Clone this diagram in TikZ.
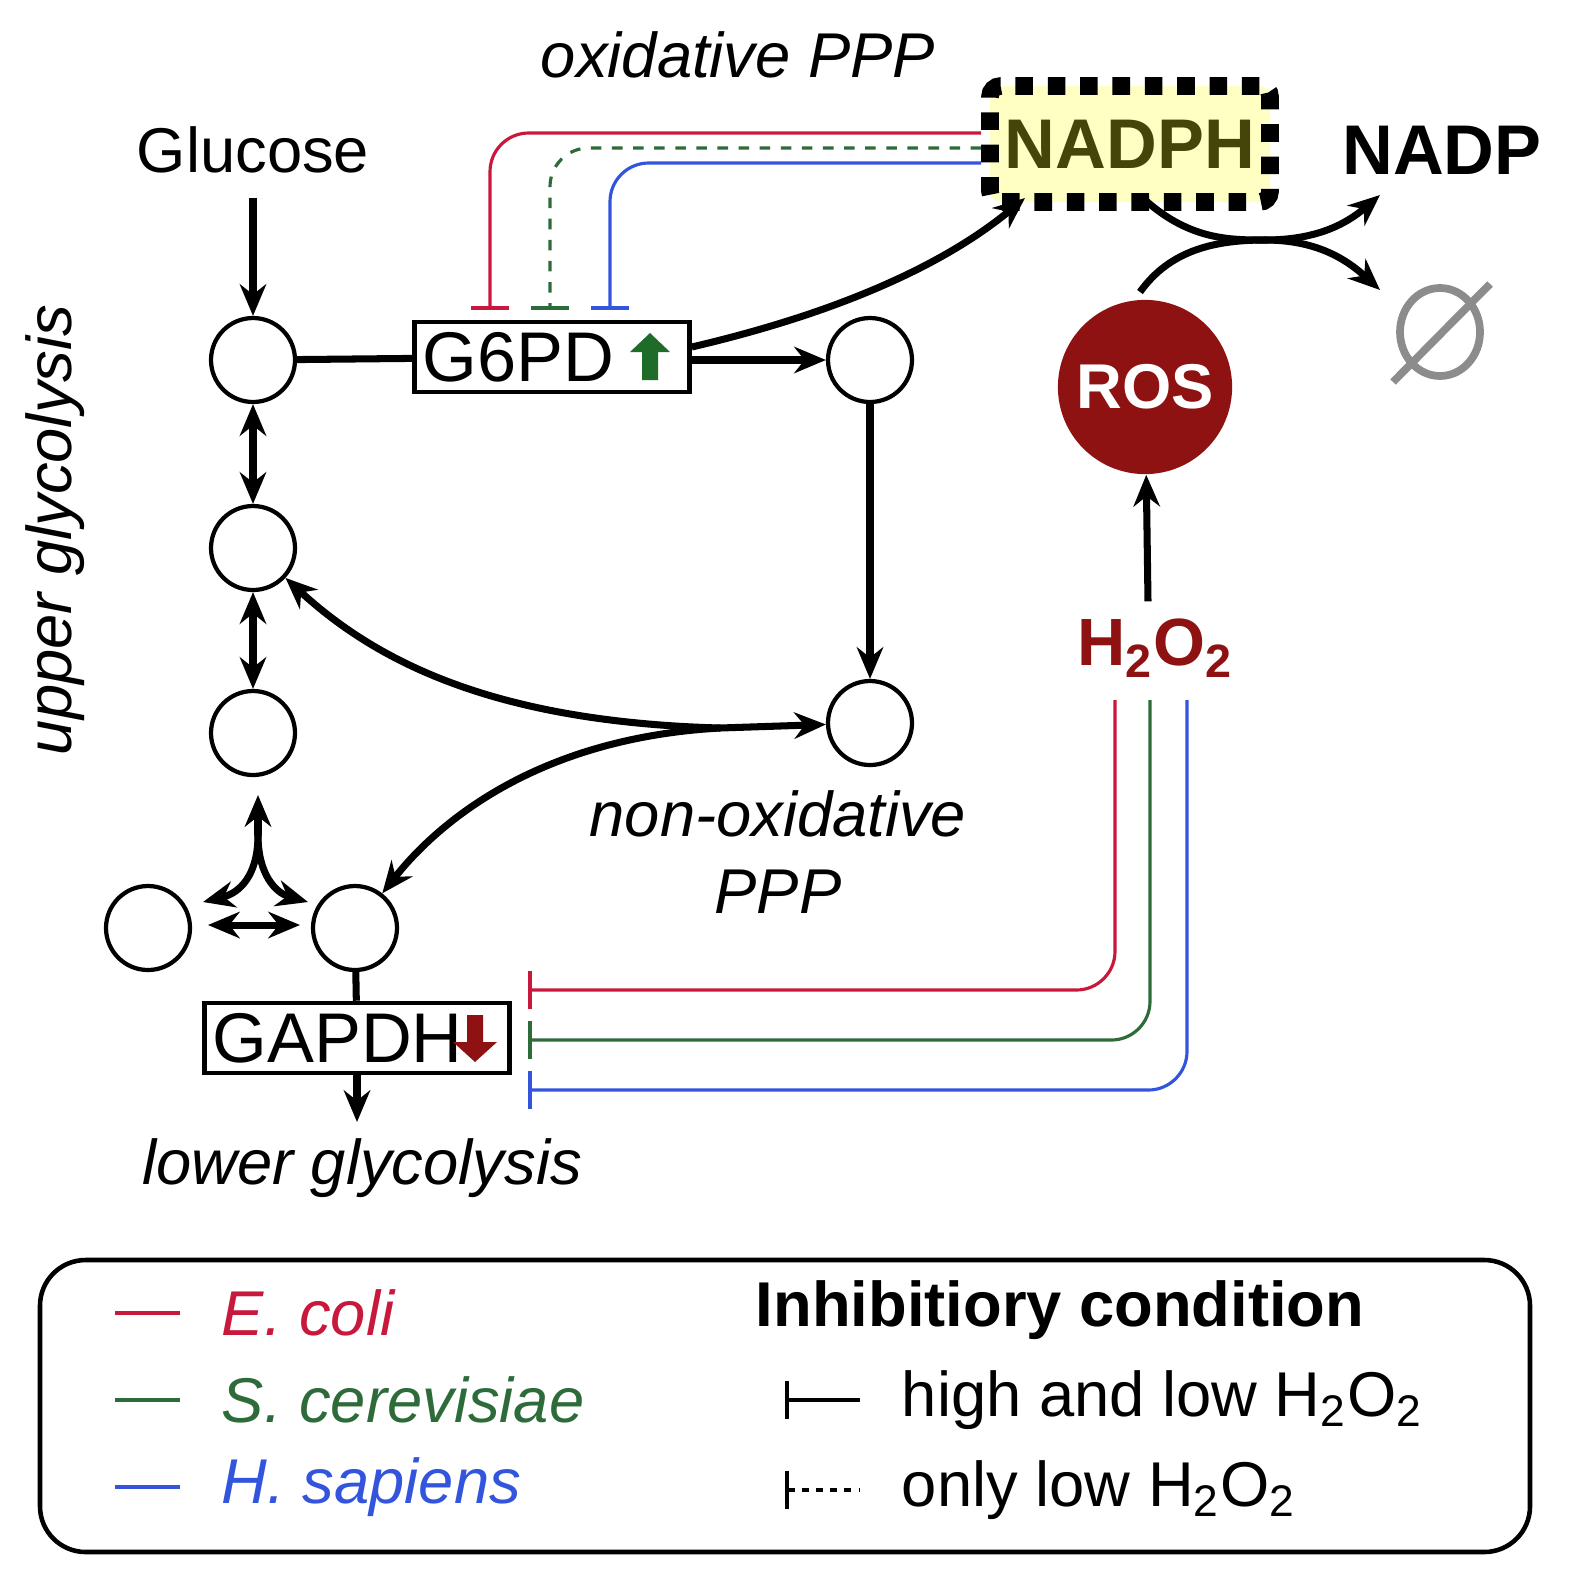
\documentclass[tikz,border=0pt]{standalone}
\usepackage{fontspec}
\setmainfont{Liberation Sans}
\usetikzlibrary{arrows.meta}
\definecolor{cred}{HTML}{C8193C}
\definecolor{cgreen}{HTML}{2E6B3A}
\definecolor{cblue}{HTML}{3355DD}
\definecolor{rosred}{HTML}{8E1212}
\definecolor{nadfill}{HTML}{FFFFC4}
\definecolor{nadtext}{HTML}{45450A}
\definecolor{arrgreen}{HTML}{1F6B2A}
\newcommand{\hho}{H\textsubscript{2}O\textsubscript{2}}
\tikzset{
 met/.style={circle,draw,line width=1.2pt,minimum size=84*0.01cm,inner sep=0pt},
 enz/.style={draw,line width=1.3pt,inner ysep=0pt,inner xsep=8*0.01cm,align=left,minimum height=70*0.01cm,font=\fontsize{20}{24}\selectfont},
 flow/.style={line width=2pt,-{Stealth[length=9pt,width=7.5pt]}},
 dflow/.style={line width=2pt,{Stealth[length=9pt,width=7.5pt]}-{Stealth[length=9pt,width=7.5pt]}},
 inh/.style={line width=0.9pt,rounded corners=11pt,-{Bar[width=11pt,line width=1.1pt]}},
 lbl/.style={font=\fontsize{18}{22}\selectfont},
}
\begin{document}
\begin{tikzpicture}[x=0.01cm,y=-0.01cm]
\useasboundingbox (0,0) rectangle (1588,1587);
% metabolites
\node[met] (c1) at (253,360) {};
\node[met] (c2) at (253,548) {};
\node[met] (c3) at (253,733) {};
\node[met] (c4) at (148,928) {};
\node[met] (c5) at (355,928) {};
\node[met] (c6) at (870,360) {};
\node[met] (c7) at (870,723) {};
\node[lbl] (glc) at (253,150) {Glucose};
\node[enz,text width=259*0.01cm] (g6pd) at (552,357) {G6PD};
\fill[arrgreen] (642,380) -- (642,352) -- (630,352) -- (650,333) -- (670,352) -- (658,352) -- (658,380) -- cycle;
\node[enz,text width=289*0.01cm] (gapdh) at (357,1038) {GAPDH};
\fill[rosred] (467,1015) -- (467,1042) -- (453,1042) -- (475,1062) -- (497,1042) -- (483,1042) -- (483,1015) -- cycle;
\node[rectangle,fill=nadfill,draw,line width=5pt,dash pattern=on 5pt off 4.2pt,rounded corners=3pt,minimum width=280*0.01cm,minimum height=116*0.01cm,text=nadtext,font=\bfseries\fontsize{20}{24}\selectfont] (nadph) at (1130,144) {NADPH};
\node[font=\bfseries\fontsize{20}{24}\selectfont] (nadp) at (1442,150) {NADP};
\node[circle,fill=rosred,minimum size=174*0.01cm,text=white,font=\bfseries\fontsize{18}{22}\selectfont] (ros) at (1145,387) {ROS};
\node[text=rosred,font=\bfseries\fontsize{19}{24}\selectfont] (h2o2) at (1155,648) {\hho};
% empty set
\coordinate (nul) at (1440,332);
\draw[gray!90,line width=2.2pt] (nul) ellipse (40*0.01cm and 44*0.01cm);
\draw[gray!90,line width=2.2pt] (1393,382) -- (1490,284);
% labels
\node[lbl,font=\itshape\fontsize{18}{22}\selectfont] (oxppp) at (738,55) {oxidative PPP};
\node[lbl,font=\itshape\fontsize{18}{22}\selectfont,align=center] (noxppp) at (778,852) {non-oxidative\\PPP};
\node[lbl,font=\itshape\fontsize{18}{22}\selectfont] (lowg) at (362,1168) {lower glycolysis};
\node[lbl,font=\itshape\fontsize{18}{22}\selectfont,rotate=90] (upg) at (55,530) {upper glycolysis};
% flows
\draw[flow] (glc.south) ++(0,12) coordinate (gs) -- (c1.north);
\draw[line width=2pt] (c1) -- (g6pd);
\draw[flow] (g6pd.east |- c6) -- (c6);
\draw[flow] (g6pd.east) ++(0,-10) coordinate (ge) .. controls (850,310) and (950,260) .. (1025,198);
\draw[dflow] (c1) -- (c2);
\draw[dflow] (c2) -- (c3);
\draw[flow] (c6) -- (c7);
\coordinate (j7) at (720,728);
\draw[flow] (j7) -- (c7);
\draw[flow] (j7) .. controls (500,722) and (380,665) .. (c2);
\draw[flow] (j7) .. controls (540,738) and (440,820) .. (c5);
\coordinate (j3) at (258,835);
\draw[flow] (j3) -- (258,795);
\draw[flow] (j3) .. controls (258,875) and (240,893) .. (203,902);
\draw[flow] (j3) .. controls (258,875) and (276,893) .. (308,902);
\draw[dflow] (208,925) -- (300,925);
\draw[line width=2pt] (c5) -- (gapdh);
\draw[flow] (gapdh) -- (357,1122);
\draw[flow] (h2o2.north) ++(-7,-5) coordinate (hn) -- (ros);
% NADPH reaction
\coordinate (jr) at (1265,240);
\draw[line width=2pt] (1145,200) .. controls (1190,240) and (1230,240) .. (jr);
\draw[line width=2pt] (1140,292) .. controls (1170,250) and (1215,240) .. (jr);
\draw[flow] (jr) .. controls (1315,240) and (1345,225) .. (1380,195);
\draw[flow] (jr) .. controls (1315,240) and (1345,258) .. (1380,290);
% inhibitions NADPH -> G6PD
\draw[inh,cred] (nadph.west |- 0,133) -- (490,133) -- (490,310);
\draw[inh,cgreen,dash pattern=on 3pt off 3pt] (nadph.west |- 0,148) -- (550,148) -- (550,310);
\draw[inh,cblue] (nadph.west |- 0,163) -- (610,163) -- (610,310);
% inhibitions H2O2 -> GAPDH
\draw[inh,cred] (1115,700) -- (1115,990) -- (528,990);
\draw[inh,cgreen] (1150,700) -- (1150,1040) -- (528,1040);
\draw[inh,cblue] (1187,700) -- (1187,1090) -- (528,1090);
% legend
\draw[line width=1.3pt,rounded corners=13pt] (40,1260) rectangle (1530,1552);
\draw[cred,line width=1.2pt] (115,1313) -- (180,1313) node[right=8pt,lbl,font=\itshape\fontsize{18}{22}\selectfont] (le) {E. coli};
\draw[cgreen,line width=1.2pt] (115,1400) -- (180,1400) node[right=8pt,lbl,font=\itshape\fontsize{18}{22}\selectfont] (ls) {S. cerevisiae};
\draw[cblue,line width=1.2pt] (115,1487) -- (180,1487) node[right=8pt,lbl,font=\itshape\fontsize{18}{22}\selectfont] (lh) {H. sapiens};
\node[font=\bfseries\fontsize{18}{22}\selectfont] (lt) at (1060,1310) {Inhibitiory condition};
\draw[line width=1.2pt,{Bar[width=11pt,line width=1.2pt]}-] (785,1400) -- (860,1400) node[right=8pt,lbl,black] (l1) {high and low \hho};
\draw[line width=1.2pt,dash pattern=on 2pt off 2pt,{Bar[width=11pt,line width=1.2pt]}-] (785,1490) -- (860,1490) node[right=8pt,lbl,black] (l2) {only low \hho};
\end{tikzpicture}
\end{document}
